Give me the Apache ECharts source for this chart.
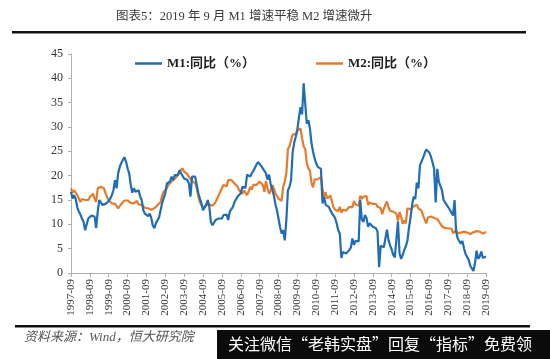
<!DOCTYPE html>
<html><head><meta charset="utf-8">
<script src="https://cdn.jsdelivr.net/npm/echarts@6/dist/echarts.min.js"></script>
<style>html,body{margin:0;padding:0;background:#fff}#c{width:550px;height:359px}</style>
</head><body><div id="c"></div>
<script>
// Monthly data from 1997-09 to 2019-09
const startYear = 1997, startMonth = 9, monthCount = 265;
const titleText = '图表5：2019 年 9 月 M1 增速平稳 M2 增速微升';
const sourceText = '资料来源：Wind，恒大研究院';
const bannerText = '关注微信“老韩实盘”回复“指标”免费领';
const seriesNames = ['M1:同比（%）', 'M2:同比（%）'];
const yTicks = [0, 5, 10, 15, 20, 25, 30, 35, 40, 45];

const m1 = [
 16.7, 15.3, 16.0, 15.2,
 13.5, 12.6, 12.0, 11.2, 10.5, 8.8, 10.0, 11.2, 11.6, 11.8, 11.9, 11.6,
 9.2, 12.6, 15.0, 14.5, 14.0, 14.3, 14.2, 14.3, 14.8, 15.3, 16.0, 17.0,
 19.1, 17.4, 20.5, 21.8, 22.6, 23.2, 23.8, 22.9, 21.5, 20.5, 18.1, 16.5,
 17.4, 16.7, 16.8, 17.0, 15.7, 15.0, 12.9, 12.2, 12.0, 11.7, 12.2, 11.4,
 9.8, 9.2, 10.2, 9.8, 11.4, 12.9, 14.4, 14.6, 16.4, 18.4, 18.1, 18.8,
 19.8, 19.1, 20.1, 20.3, 20.1, 21.1, 20.5, 20.5, 19.4, 19.8, 19.1, 18.4,
 15.7, 19.8, 20.1, 19.8, 18.1, 16.4, 15.3, 14.3, 12.9, 12.6, 14.0, 15.0,
 13.6, 10.5, 9.8, 10.2, 10.9, 11.0, 11.2, 11.6, 11.2, 11.9, 12.2, 12.0,
 10.9, 12.6, 13.0, 13.6, 14.6, 15.0, 15.7, 16.0, 16.4, 17.7, 17.7, 17.5,
 20.2, 20.5, 19.8, 20.5, 21.0, 21.6, 22.3, 22.8, 22.4, 22.0, 21.6, 21.0,
 20.5, 19.2, 20.2, 18.3, 17.2, 16.0, 14.2, 12.9, 11.2, 9.4, 8.1, 8.8,
 6.7, 10.9, 17.0, 17.7, 19.1, 24.8, 26.8, 28.0, 29.5, 32.0, 34.1, 32.6,
 39.0, 34.8, 30.7, 31.4, 29.7, 26.6, 24.9, 23.5, 22.5, 21.8, 22.2, 21.4,
 14.3, 15.7, 14.0, 14.2, 13.6, 12.9, 12.3, 11.8, 11.3, 10.2, 8.8, 8.1,
 3.1, 4.3, 4.4, 4.0, 4.3, 4.7, 5.2, 7.1, 5.8, 6.6, 6.2, 6.5,
 15.0, 11.0, 10.5, 11.9, 11.3, 9.5, 10.2, 9.9, 9.5, 9.3, 9.2, 8.5,
 1.2, 5.6, 5.4, 5.3, 5.7, 8.9, 6.7, 5.7, 4.8, 3.7, 3.2, 3.2,
 10.6, 4.0, 2.9, 3.7, 4.7, 5.5, 6.6, 9.3, 11.4, 14.0, 15.7, 15.2,
 18.6, 17.4, 22.1, 22.9, 23.7, 24.6, 25.4, 25.3, 24.7, 23.9, 22.7, 21.4,
 14.5, 21.4, 18.8, 18.5, 17.0, 15.0, 15.3, 14.0, 14.0, 13.0, 12.7, 11.8,
 15.0, 8.5, 7.1, 7.2, 6.0, 6.6, 5.1, 3.9, 4.0, 2.7, 1.5, 1.5,
 0.4, 2.0, 4.6, 2.9, 3.4, 4.4, 3.1, 3.4, 3.4
];

const m2 = [
 17.4, 16.5, 17.0, 17.2,
 16.0, 15.3, 14.6, 15.2, 14.8, 15.0, 15.3, 15.0, 15.6, 16.0, 16.3, 15.3,
 14.6, 17.4, 17.8, 17.7, 17.7, 17.4, 16.3, 15.6, 14.9, 14.6, 14.3, 14.6,
 14.2, 13.9, 13.3, 13.6, 14.2, 14.6, 14.9, 14.6, 14.9, 14.8, 14.4, 14.6,
 14.3, 14.1, 14.8, 14.1, 14.4, 14.0, 13.7, 13.4, 13.6, 13.3, 12.9, 13.0,
 12.6, 13.3, 13.6, 13.9, 14.2, 14.6, 16.0, 16.7, 17.1, 17.4, 18.1, 18.4,
 18.8, 19.1, 19.4, 19.8, 20.1, 20.8, 21.1, 21.5, 20.8, 20.8, 20.3, 19.8,
 19.6, 18.8, 19.1, 18.5, 17.4, 15.7, 14.6, 13.9, 13.3, 13.6, 14.0, 14.0,
 14.1, 14.0, 13.8, 14.0, 14.6, 15.3, 16.0, 16.7, 17.4, 18.1, 18.4, 17.8,
 19.1, 18.8, 19.1, 18.8, 18.4, 18.1, 17.7, 17.0, 16.7, 16.3, 17.0, 17.1,
 16.0, 16.7, 17.7, 17.1, 18.1, 18.4, 18.1, 18.4, 18.8, 18.4, 18.1, 16.7,
 18.9, 17.5, 16.3, 16.9, 18.1, 17.4, 16.4, 16.0, 15.3, 15.0, 14.8, 17.8,
 18.8, 20.5, 25.5, 26.0, 25.7, 28.5, 28.4, 28.5, 29.3, 29.4, 29.7, 27.7,
 26.0, 25.5, 22.5, 21.5, 21.0, 18.5, 17.6, 19.2, 19.0, 19.3, 19.5, 19.7,
 17.2, 15.7, 16.6, 15.3, 15.1, 15.9, 14.7, 13.5, 13.0, 12.9, 12.7, 13.6,
 12.4, 13.0, 13.4, 12.8, 13.2, 13.6, 13.9, 13.5, 14.8, 14.1, 13.9, 13.8,
 15.9, 15.2, 15.7, 16.1, 15.8, 14.0, 14.5, 14.7, 14.2, 14.3, 14.2, 13.6,
 13.2, 13.3, 12.1, 13.2, 13.4, 14.7, 13.5, 12.8, 12.9, 12.6, 12.3, 12.2,
 10.8, 12.5, 11.6, 10.1, 10.8, 10.2, 13.3, 13.3, 13.1, 13.5, 13.7, 13.3,
 14.0, 13.3, 13.4, 12.8, 11.8, 11.8, 10.2, 11.4, 11.5, 11.6, 11.4, 11.3,
 11.3, 11.1, 10.6, 10.5, 9.6, 9.4, 9.2, 8.9, 9.2, 8.8, 9.1, 8.2,
 8.6, 8.8, 8.2, 8.3, 8.3, 8.0, 8.5, 8.2, 8.3, 8.0, 8.0, 8.1,
 8.4, 8.0, 8.6, 8.5, 8.5, 8.5, 8.1, 8.2, 8.4
];

const categories = [];
for (let i = 0; i < monthCount; i++) {
  const t = (startMonth - 1) + i;
  const y = startYear + Math.floor(t / 12), mo = (t % 12) + 1;
  categories.push(y + '-' + (mo < 10 ? '0' + mo : mo));
}

const serif = '"Liberation Serif","Times New Roman","Noto Sans CJK SC",serif';
const legendText = {fontSize: 13, fontWeight: 'bold', color: '#222', fontFamily: serif};
const chart = echarts.init(document.getElementById('c'), null, {renderer: 'canvas'});
chart.setOption({
  backgroundColor: '#ffffff',
  animation: false,
  title: {
    text: titleText, left: 116, top: 10, padding: 0,
    textStyle: {fontSize: 12.5, fontWeight: 'normal', color: '#3a3a3a', fontFamily: serif}
  },
  legend: [
    {data: [seriesNames[0]], left: 135, top: 57, icon: 'rect', itemWidth: 27, itemHeight: 2.5, itemGap: 4, padding: 0, textStyle: legendText},
    {data: [seriesNames[1]], left: 316, top: 57, icon: 'rect', itemWidth: 27, itemHeight: 2.5, itemGap: 4, padding: 0, textStyle: legendText}
  ],
  grid: {left: 71, right: 64, top: 54, bottom: 86, containLabel: false},
  xAxis: {
    type: 'category', data: categories, boundaryGap: false,
    axisLine: {lineStyle: {color: '#b0b0b0', width: 1}},
    axisTick: {show: true, interval: 11, length: 4, lineStyle: {color: '#b0b0b0'}},
    axisLabel: {interval: 11, rotate: 90, fontSize: 11, color: '#333', fontFamily: serif, margin: 6},
    splitLine: {show: false}
  },
  yAxis: {
    type: 'value', min: yTicks[0], max: yTicks[yTicks.length - 1], interval: 5,
    axisLine: {show: true, lineStyle: {color: '#b0b0b0', width: 1}},
    axisTick: {show: true, inside: false, length: 3, lineStyle: {color: '#b0b0b0'}},
    axisLabel: {fontSize: 12, color: '#333', fontFamily: serif, margin: 8},
    splitLine: {show: false}
  },
  series: [
    {name: seriesNames[0], type: 'line', data: m1, symbol: 'none', smooth: false,
     lineStyle: {color: '#1f6db4', width: 2.2}, itemStyle: {color: '#1f6db4'}, z: 3},
    {name: seriesNames[1], type: 'line', data: m2, symbol: 'none', smooth: false,
     lineStyle: {color: '#e57c2b', width: 2.2}, itemStyle: {color: '#e57c2b'}, z: 2}
  ],
  graphic: [
    {type: 'rect', shape: {x: 12, y: 31, width: 514, height: 2.5}, style: {fill: '#111'}},
    {type: 'rect', shape: {x: 15, y: 325, width: 515, height: 2.5}, style: {fill: '#111'}},
    {type: 'text', left: 24, top: 331, style: {text: sourceText, font: 'italic 13px ' + serif, fill: '#555'}},
    {type: 'rect', shape: {x: 217, y: 330, width: 333, height: 29}, style: {fill: '#0b0b0b'}, z: 10},
    {type: 'text', left: 228, top: 336, z: 11, style: {text: bannerText, font: '16px "Noto Sans CJK SC",sans-serif', fill: '#fff'}}
  ]
});
</script></body></html>
